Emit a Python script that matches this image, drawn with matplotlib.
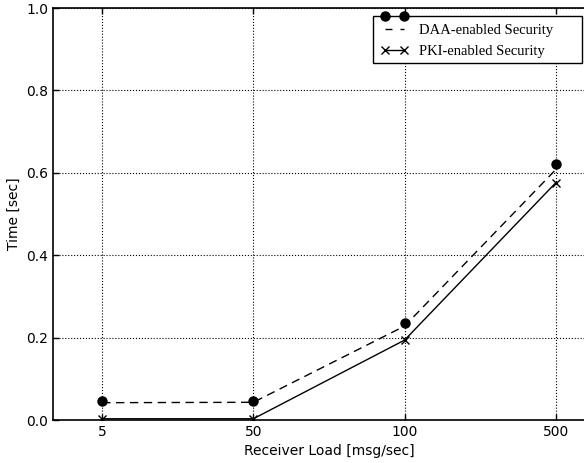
import matplotlib
matplotlib.use("Agg")
import matplotlib.pyplot as plt
from matplotlib.lines import Line2D
from matplotlib.patches import Rectangle
from matplotlib.legend_handler import HandlerLine2D

categories = ["5", "50", "100", "500"]
daa_line = [0.042, 0.043, 0.228, 0.608]
daa_marker = [0.045, 0.046, 0.236, 0.622]
pki = [0.003, 0.003, 0.194, 0.576]

W, H = 584, 463
fig = plt.figure(figsize=(W / 100, H / 100), dpi=100)
ax = fig.add_axes([53/W, 43/H, 552/W, 412/H])

x = list(range(len(categories)))
ax.plot(x, daa_marker, linestyle="none", marker="o", color="black", markersize=6.5)
ax.plot(x, daa_line, linestyle="--", color="black", linewidth=1.0, dashes=(6, 4))
ax.plot(x, pki, linestyle="-", color="black", linewidth=1.0, marker="x",
        markersize=6, markeredgewidth=1.0)

ax.set_xlim(-0.325, 3.325)
ax.set_ylim(0, 1.0)
ax.set_xticks(x)
ax.set_xticklabels(categories)
ax.set_yticks([0.0, 0.2, 0.4, 0.6, 0.8, 1.0])
ax.set_yticklabels(["0.0", "0.2", "0.4", "0.6", "0.8", "1.0"])
ax.tick_params(direction="in", top=True, right=True, length=4, labelsize=10, width=1)
ax.grid(True, linestyle=":", color="black", linewidth=0.8)
for s in ax.spines.values():
    s.set_linewidth(1.2)
ax.set_xlabel("Receiver Load [msg/sec]", fontsize=10)
ax.set_ylabel("Time [sec]", fontsize=10)


class ShiftedHandler(HandlerLine2D):
    def __init__(self, dy=0.0, inset=False, **kw):
        super().__init__(**kw)
        self.dy = dy
        self.inset = inset

    def create_artists(self, legend, orig_handle, xdescent, ydescent, width,
                       height, fontsize, trans):
        arts = super().create_artists(legend, orig_handle, xdescent, ydescent,
                                      width, height, fontsize, trans)
        for a in arts:
            a.set_ydata([y + self.dy for y in a.get_ydata()])
            if self.inset:
                pad = 0.3 * fontsize
                a.set_xdata([-xdescent + pad, -xdescent + width - pad])
        return arts


fs = 10.5
h0 = Line2D([], [], linestyle="none", marker="o", color="black", markersize=6.5)
h1 = Line2D([], [], linestyle="--", color="black", linewidth=1.0, dashes=(5.0, 5.8))
h2 = Line2D([], [], linestyle="-", color="black", linewidth=1.0, marker="x", markersize=6)

# legend frame (drawn as a box behind the legend entries)
frame = Rectangle((373/W, 1 - 63/H), 209/W, 47/H, transform=fig.transFigure,
                  facecolor="white", edgecolor="black", linewidth=1.0,
                  clip_on=False, zorder=4.8)
ax.add_patch(frame)

leg = ax.legend([(h1, h0), h2], ["DAA-enabled Security", "PKI-enabled Security"],
                handler_map={h0: ShiftedHandler(dy=9.6), h1: ShiftedHandler(inset=True)},
                loc="upper left", bbox_to_anchor=(373/W, 1 - 16/H),
                bbox_transform=fig.transFigure, borderaxespad=0,
                prop={"family": "Liberation Serif", "size": fs},
                frameon=False, numpoints=2, handlelength=1.85,
                borderpad=0.55, labelspacing=0.52, handletextpad=0.75)
leg.set_zorder(5)

fig.savefig("out.png", dpi=100)
